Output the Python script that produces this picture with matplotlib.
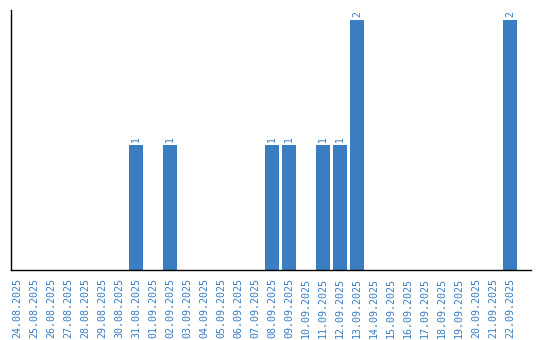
import matplotlib
matplotlib.use('Agg')
import numpy as np
from matplotlib import pyplot as plt

# data
dates = ['24.08.2025', '25.08.2025', '26.08.2025', '27.08.2025', '28.08.2025',
         '29.08.2025', '30.08.2025', '31.08.2025', '01.09.2025', '02.09.2025',
         '03.09.2025', '04.09.2025', '05.09.2025', '06.09.2025', '07.09.2025',
         '08.09.2025', '09.09.2025', '10.09.2025', '11.09.2025', '12.09.2025',
         '13.09.2025', '14.09.2025', '15.09.2025', '16.09.2025', '17.09.2025',
         '18.09.2025', '19.09.2025', '20.09.2025', '21.09.2025', '22.09.2025']
counts = [0, 0, 0, 0, 0, 0, 0, 1, 0, 1,
          0, 0, 0, 0, 0, 1, 1, 0, 1, 1,
          2, 0, 0, 0, 0, 0, 0, 0, 0, 2]

blue = '#3b7dc1'

fig = plt.figure(figsize=(5.4, 3.4), dpi=100)
ax = fig.add_axes([0.0198, 0.206, 0.963, 0.765])

x = np.arange(len(dates))
bars = ax.bar(x, counts, width=0.82, color=blue)

# value labels above non-zero bars
for xi, v in zip(x, counts):
    if v > 0:
        ax.text(xi, v + 0.02, str(v), rotation=90, ha='center', va='bottom',
                color=blue, fontsize=7, family='DejaVu Sans Mono')

ax.set_xlim(-0.37, 30.22)
ax.set_ylim(0, 2.08)
ax.set_xticks(x)
ax.set_xticklabels(dates, rotation=90, color=blue, fontsize=7.2,
                   family='DejaVu Sans Mono')
ax.set_yticks([])
ax.tick_params(axis='x', length=0, pad=6)

for s in ['top', 'right']:
    ax.spines[s].set_visible(False)
ax.spines['left'].set_linewidth(1)
ax.spines['bottom'].set_linewidth(1)

fig.savefig('out.png', dpi=100)
